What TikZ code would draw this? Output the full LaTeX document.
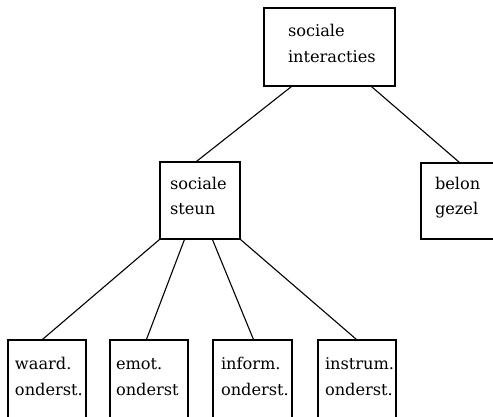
\documentclass[tikz,border=0pt]{standalone}
\usepackage{fontspec}
\setmainfont{DejaVu Serif}
\usetikzlibrary{calc}
\begin{document}
\begin{tikzpicture}[x=1pt,y=-1pt,
  box/.style={draw, line width=1.1pt, inner xsep=0pt, inner ysep=0pt, align=left,
    font=\fontsize{16.2}{25.5}\selectfont, text height=13pt, text depth=36pt},
  conn/.style={line width=1.1pt}]
\useasboundingbox (0,0) rectangle (493,417);
\clip (0,0) rectangle (493,417);
\node[box, minimum width=131pt, minimum height=78pt, text width=83pt, text depth=33pt] (top) at (329.5,47) {sociale\\interacties};
\node[box, minimum width=80pt, minimum height=77pt, text width=60pt, text depth=35pt] (steun) at (200,200.5) {sociale\\steun};
\node[box, minimum width=80pt, minimum height=76pt, text width=52pt] (belon) at (461,201) {belon\\gezel};
\node[box, minimum width=78pt, minimum height=82pt, text width=64pt] (b1) at (47,381) {waard.\\onderst.};
\node[box, minimum width=78pt, minimum height=82pt, text width=66pt] (b2) at (149,381) {emot.\\onderst};
\node[box, minimum width=79pt, minimum height=82pt, text width=63pt] (b3) at (252.5,381) {inform.\\onderst.};
\node[box, minimum width=78pt, minimum height=82pt, text width=64pt] (b4) at (357,381) {instrum.\\onderst.};
\draw[conn] ($(top.south west)+(28,0)$) -- ($(steun.north west)+(37,0)$);
\draw[conn] ($(top.south west)+(108,0)$) -- ($(belon.north west)+(39,0)$);
\draw[conn] (steun.south west) -- ($(b1.north west)+(35,0)$);
\draw[conn] ($(steun.south west)+(25,0)$) -- ($(b2.north west)+(37,0)$);
\draw[conn] ($(steun.south west)+(53,0)$) -- ($(b3.north west)+(41,0)$);
\draw[conn] (steun.south east) -- ($(b4.north west)+(39,0)$);
\end{tikzpicture}
\end{document}
